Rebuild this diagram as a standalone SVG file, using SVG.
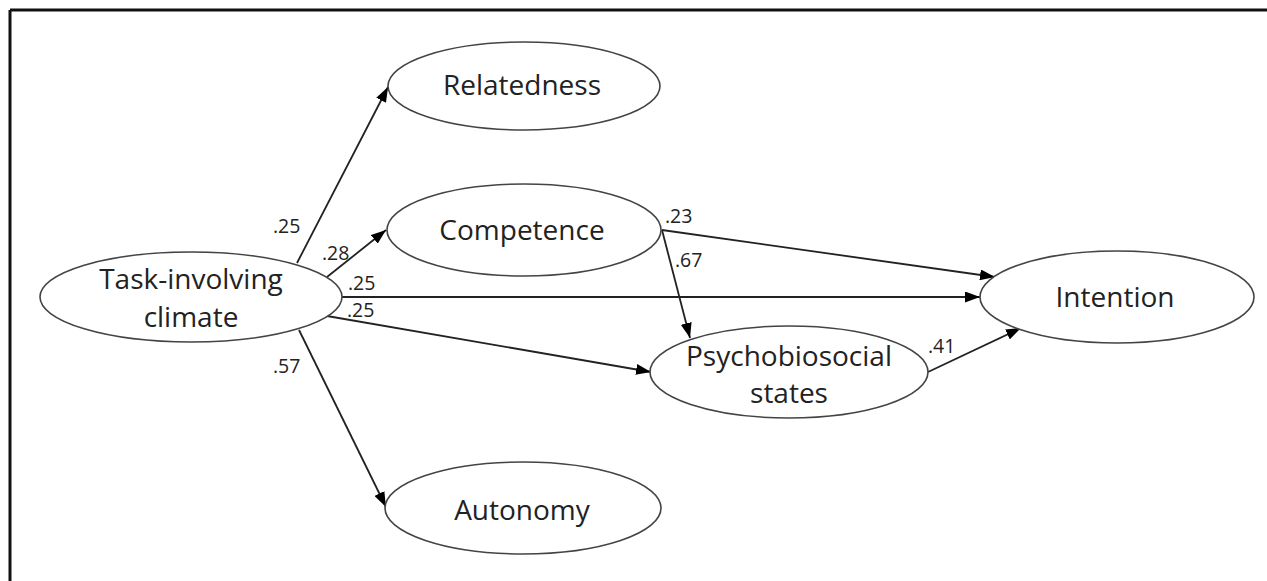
<svg xmlns="http://www.w3.org/2000/svg" width="1267" height="581" viewBox="0 0 1267 581">
<style>
.node ellipse{fill:#fff;stroke:#444;stroke-width:1.6}
.node text{font-family:"Open Sans","Liberation Sans",sans-serif;font-size:28px;fill:#222;text-anchor:middle}
.edges line{stroke:#222;stroke-width:1.8;marker-end:url(#ah)}
.lbl{font-family:"Open Sans","Liberation Sans",sans-serif;font-size:19.5px;fill:#222}
</style>
<defs>
<marker id="ah" markerUnits="userSpaceOnUse" markerWidth="15" markerHeight="11" refX="15" refY="5.5" orient="auto">
<path d="M0,0 L15,5.5 L0,11 z" fill="#000"/>
</marker>
</defs>
<rect width="1267" height="581" fill="#fff"/>
<g id="frame" stroke="#111" stroke-width="3">
<line x1="10" y1="10" x2="1267" y2="10"/>
<line x1="10" y1="10" x2="10" y2="581"/>
</g>
<g class="edges" id="connectors">
<line x1="297" y1="263" x2="388" y2="87"/>
<line x1="327" y1="277" x2="386" y2="230"/>
<line x1="342" y1="297" x2="980" y2="297"/>
<line x1="327" y1="316" x2="651" y2="372"/>
<line x1="299" y1="330" x2="386" y2="507"/>
<line x1="662" y1="230" x2="995" y2="277"/>
<line x1="662" y1="230" x2="690" y2="338"/>
<line x1="928" y1="372" x2="1021" y2="328"/>
</g>
<g id="labels" class="lbl">
<text x="273" y="233">.25</text>
<text x="322" y="260">.28</text>
<text x="348" y="290">.25</text>
<text x="347" y="317">.25</text>
<text x="273" y="373">.57</text>
<text x="665" y="223">.23</text>
<text x="675" y="267">.67</text>
<text x="928" y="353">.41</text>
</g>
<g class="node" id="relatedness">
<ellipse cx="524" cy="86" rx="136" ry="44"/>
<text x="522" y="95">Relatedness</text>
</g>
<g class="node" id="competence">
<ellipse cx="524" cy="230" rx="137" ry="46"/>
<text x="522" y="240">Competence</text>
</g>
<g class="node" id="task">
<ellipse cx="191" cy="297" rx="151" ry="45"/>
<text x="191" y="289">Task-involving</text>
<text x="191" y="327">climate</text>
</g>
<g class="node" id="autonomy">
<ellipse cx="523" cy="508" rx="138" ry="46"/>
<text x="522" y="520">Autonomy</text>
</g>
<g class="node" id="psycho">
<ellipse cx="789" cy="372" rx="139" ry="46"/>
<text x="789" y="366">Psychobiosocial</text>
<text x="789" y="403">states</text>
</g>
<g class="node" id="intention">
<ellipse cx="1117" cy="297" rx="137" ry="46"/>
<text x="1115" y="307">Intention</text>
</g>
</svg>
